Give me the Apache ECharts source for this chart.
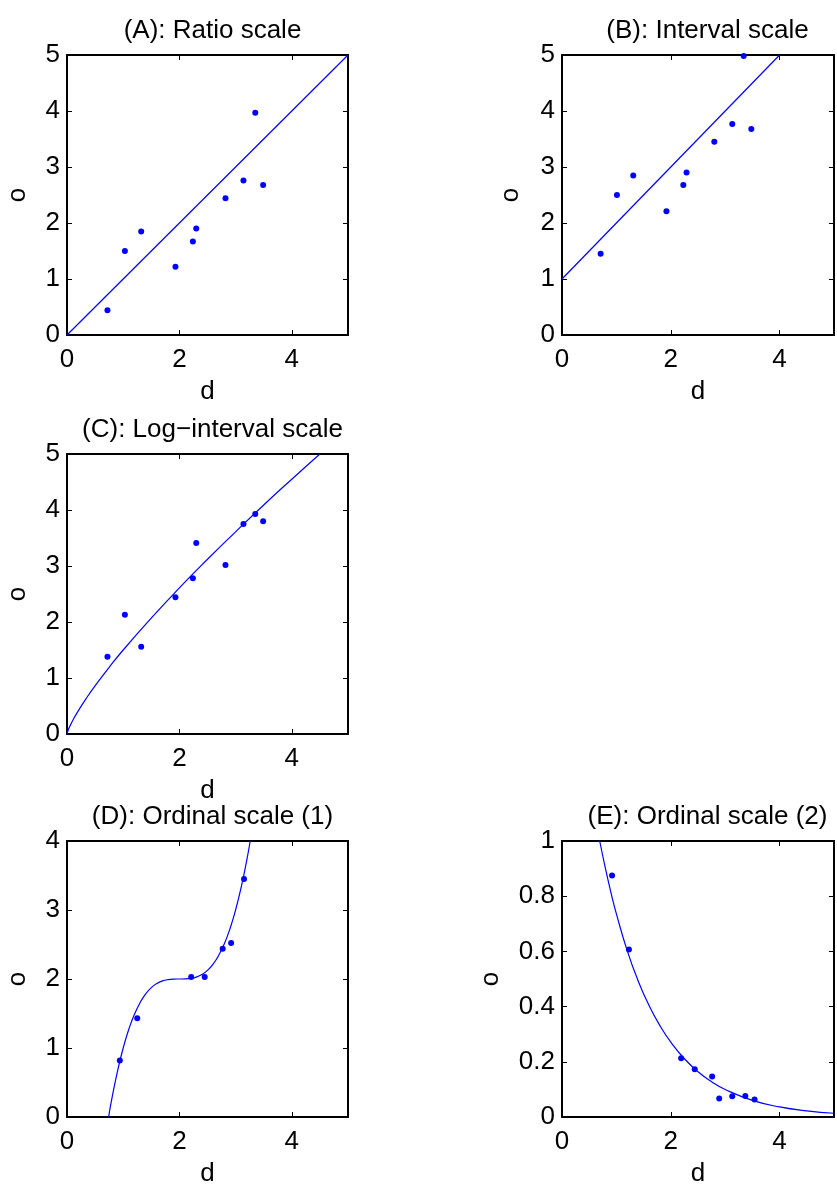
<!DOCTYPE html>
<html>
<head>
<meta charset="utf-8">
<script src="https://cdn.jsdelivr.net/npm/echarts@6/dist/echarts.min.js"></script>
<style>
html,body{margin:0;padding:0;background:#fff;}
#chart{width:837px;height:1188px;}
</style>
</head>
<body>
<div id="chart"></div>
<script>
// ---- data ----
const titles = ['(A): Ratio scale', '(B): Interval scale', '(C): Log\u2212interval scale', '(D): Ordinal scale (1)', '(E): Ordinal scale (2)'];
const xTicks = [0, 2, 4];
const yTicksAC = [0, 1, 2, 3, 4, 5];
const yTicksD = [0, 1, 2, 3, 4];
const yTicksE = [0, 0.2, 0.4, 0.6, 0.8, 1];

const dA = [0.72, 1.03, 1.32, 1.93, 2.24, 2.30, 2.82, 3.14, 3.35, 3.49];
const oA = [0.44, 1.50, 1.85, 1.22, 1.67, 1.90, 2.44, 2.76, 3.97, 2.68];
const fitAd = [0, 5];
const fitAo = [0, 5];

const dB = [0.71, 1.01, 1.31, 1.92, 2.23, 2.29, 2.80, 3.13, 3.34, 3.48];
const oB = [1.45, 2.50, 2.85, 2.21, 2.68, 2.90, 3.45, 3.77, 4.98, 3.68];
const fitBd = [0, 4];
const fitBo = [1, 5];

const dC = [0.72, 1.03, 1.32, 1.93, 2.24, 2.30, 2.82, 3.14, 3.35, 3.49];
const oC = [1.38, 2.13, 1.56, 2.44, 2.78, 3.41, 3.02, 3.75, 3.93, 3.80];
const fitCd = [0, 0.02, 0.05, 0.1, 0.2, 0.35, 0.5, 0.75, 1, 1.5, 2, 2.5, 3, 3.5, 4, 4.5];
const fitCo = [0, 0.066, 0.137, 0.238, 0.414, 0.648, 0.861, 1.19, 1.5, 2.07, 2.61, 3.12, 3.61, 4.09, 4.55, 5.0];

const dD = [0.94, 1.25, 2.21, 2.45, 2.77, 2.92, 3.15];
const oD = [0.82, 1.43, 2.03, 2.03, 2.44, 2.52, 3.45];
const fitDd = [0.74, 0.8, 0.9, 1.0, 1.1, 1.2, 1.3, 1.4, 1.5, 1.6, 1.7, 1.8, 1.9, 2.0, 2.1, 2.2, 2.3, 2.4, 2.5, 2.6, 2.7, 2.8, 2.9, 3.0, 3.1, 3.2, 3.26];
const fitDo = [0, 0.272, 0.669, 1.0, 1.271, 1.488, 1.657, 1.784, 1.875, 1.936, 1.973, 1.992, 1.999, 2.0, 2.001, 2.008, 2.027, 2.064, 2.125, 2.216, 2.343, 2.512, 2.729, 3.0, 3.331, 3.728, 4.0];

const dE = [0.92, 1.23, 2.19, 2.44, 2.76, 2.89, 3.13, 3.37, 3.54];
const oE = [0.875, 0.607, 0.213, 0.173, 0.147, 0.067, 0.075, 0.076, 0.063];
const fitEd = [0.693, 0.8, 0.9, 1.0, 1.2, 1.4, 1.6, 1.8, 2.0, 2.25, 2.5, 2.75, 3.0, 3.5, 4.0, 4.5, 5.0];
const fitEo = [1.0, 0.899, 0.813, 0.736, 0.602, 0.493, 0.404, 0.331, 0.271, 0.211, 0.164, 0.128, 0.0996, 0.0604, 0.0366, 0.0222, 0.0135];

// ---- layout ----
const FONT = 'Liberation Sans';
const FS = 26;
const BLUE = '#0000ff';
const panels = [
  {left: 67, top: 55, h: 280, ymax: 5, yint: 1, d: dA, o: oA, fd: fitAd, fo: fitAo, ygap: 36, smooth: false},
  {left: 562, top: 55, h: 280, ymax: 5, yint: 1, d: dB, o: oB, fd: fitBd, fo: fitBo, ygap: 38, smooth: false},
  {left: 67, top: 454, h: 280, ymax: 5, yint: 1, d: dC, o: oC, fd: fitCd, fo: fitCo, ygap: 36, smooth: true},
  {left: 67, top: 841, h: 281, ymax: 4, yint: 1, d: dD, o: oD, fd: fitDd, fo: fitDo, ygap: 36, smooth: true},
  {left: 562, top: 841, h: 281, ymax: 1, yint: 0.2, d: dE, o: oE, fd: fitEd, fo: fitEo, ygap: 58, smooth: true}
];
const W = 281;

const zip = (a, b) => a.map((v, i) => [v, b[i]]);
const txt = {fontFamily: FONT, fontSize: FS, color: '#000'};
const lineStyle = {color: '#000', width: 2};

const option = {
  animation: false,
  backgroundColor: '#fff',
  title: [], grid: [], xAxis: [], yAxis: [], series: []
};

panels.forEach((p, i) => {
  option.title.push({
    text: titles[i], left: p.left + W / 2, top: p.top - 42, textAlign: 'center',
    textStyle: {fontFamily: FONT, fontSize: FS, fontWeight: 'normal', color: '#000'}
  });
  option.grid.push({left: p.left, top: p.top, width: W, height: p.h, containLabel: false});
  const xi = option.xAxis.length;
  const yi = option.yAxis.length;
  option.xAxis.push({
    type: 'value', gridIndex: i, min: 0, max: 5, interval: 2, position: 'bottom',
    name: 'd', nameLocation: 'middle', nameGap: 44, nameTextStyle: txt,
    axisLine: {show: true, onZero: false, lineStyle},
    axisTick: {show: true, inside: true, length: 5, lineStyle: {color: '#000', width: 1}},
    axisLabel: {show: true, margin: 12, ...txt, formatter: v => (xTicks.indexOf(v) >= 0 ? String(v) : '')},
    splitLine: {show: false}
  });
  option.xAxis.push({
    type: 'value', gridIndex: i, min: 0, max: 5, interval: 2, position: 'top',
    axisLine: {show: true, onZero: false, lineStyle},
    axisTick: {show: true, inside: true, length: 5, lineStyle: {color: '#000', width: 1}},
    axisLabel: {show: false}, splitLine: {show: false}
  });
  option.yAxis.push({
    type: 'value', gridIndex: i, min: 0, max: p.ymax, interval: p.yint, position: 'left',
    name: 'o', nameLocation: 'middle', nameGap: p.ygap, nameRotate: 90, nameTextStyle: txt,
    axisLine: {show: true, onZero: false, lineStyle},
    axisTick: {show: true, inside: true, length: 5, lineStyle: {color: '#000', width: 1}},
    axisLabel: {show: true, margin: 7, ...txt, formatter: v => String(Math.round(v * 10) / 10)},
    splitLine: {show: false}
  });
  option.yAxis.push({
    type: 'value', gridIndex: i, min: 0, max: p.ymax, interval: p.yint, position: 'right',
    axisLine: {show: true, onZero: false, lineStyle},
    axisTick: {show: true, inside: true, length: 5, lineStyle: {color: '#000', width: 1}},
    axisLabel: {show: false}, splitLine: {show: false}
  });
  option.series.push({
    type: 'line', xAxisIndex: xi, yAxisIndex: yi, data: zip(p.fd, p.fo),
    showSymbol: false, smooth: p.smooth ? 0.5 : false,
    lineStyle: {color: BLUE, width: 1.2}, itemStyle: {color: BLUE}, clip: true, z: 2
  });
  option.series.push({
    type: 'scatter', xAxisIndex: xi, yAxisIndex: yi, data: zip(p.d, p.o),
    symbol: 'circle', symbolSize: 6, itemStyle: {color: BLUE, opacity: 1}, clip: false, z: 3
  });
});

const chart = echarts.init(document.getElementById('chart'), null, {renderer: 'canvas'});
chart.setOption(option);
</script>
</body>
</html>
